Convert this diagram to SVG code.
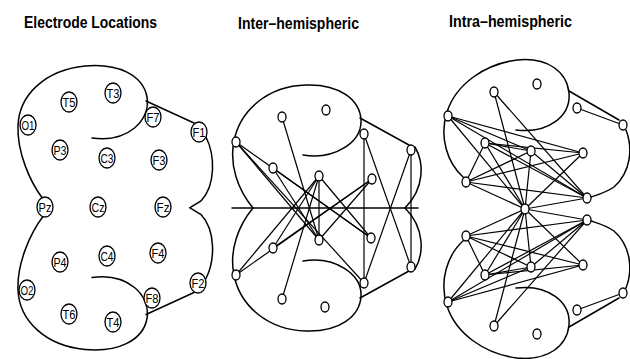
<svg xmlns="http://www.w3.org/2000/svg" width="630" height="359" viewBox="0 0 630 359">
<style>
.outline{fill:none;stroke:#000;stroke-width:1.5;stroke-linecap:round}
.edge{fill:none;stroke:#000;stroke-width:1.2}
.el{fill:#fff;stroke:#000;stroke-width:1.3}
.lbl{font-family:"Liberation Sans",Arial,sans-serif;font-size:13px;text-anchor:middle;fill:#000}
.title{font-family:"Liberation Sans",Arial,sans-serif;font-weight:bold;font-size:17px;fill:#000}
</style>
<rect width="630" height="359" fill="#fff"/>
<g id="titles">
<text class="title" x="24" y="28" textLength="133" lengthAdjust="spacingAndGlyphs">Electrode Locations</text>
<text class="title" x="238" y="29" textLength="121" lengthAdjust="spacingAndGlyphs">Inter–hemispheric</text>
<text class="title" x="449" y="27" textLength="123" lengthAdjust="spacingAndGlyphs">Intra–hemispheric</text>
</g>
<g id="outlines">
<g id="p1-upper">
<path class="outline" d="M43,199 C30,182 17,152 18,126 C19,95 45,70 85,66 C118,63 143,75 147,97 C151,120 128,143 92,138"/>
<path class="outline" d="M146,101 L194,123 M206,137 C215,155 216,185 201,201 L190,207.7"/>
</g>
<g id="p1-lower" transform="matrix(1 0 0 -1 0 415.5)">
<path class="outline" d="M43,199 C30,182 17,152 18,126 C19,95 45,70 85,66 C118,63 143,75 147,97 C151,120 128,143 92,138"/>
<path class="outline" d="M146,101 L194,123 M206,137 C215,155 216,185 201,201 L190,207.7"/>
</g>
<g id="p2-upper">
<path class="outline" d="M253,208 C238,190 229,165 234,141 C240,110 268,86 306,85 C340,84 360,100 361,120 C362,142 335,160 303,155"/>
<path class="outline" d="M360,118 L409,145 M415,147 C424,162 425,188 405,208"/>
</g>
<g id="p2-lower" transform="matrix(1 0 0 -1 0 416)">
<path class="outline" d="M253,208 C238,190 229,165 234,141 C240,110 268,86 306,85 C340,84 360,100 361,120 C362,142 335,160 303,155"/>
<path class="outline" d="M360,118 L409,145 M415,147 C424,162 425,188 405,208"/>
</g>
<path id="p2-midline" class="outline" d="M232,208 H418"/>
<g id="p3-upper">
<path class="outline" d="M464,178 C447,163 439,137 447,112 C456,84 485,64 517,60 C548,57 567,72 569,93 C571,116 548,134 516,130"/>
<path class="outline" d="M569,91 L619,120 M626,130 C633,148 631,172 614,187 C605,193 597,195 591,197"/>
</g>
<g id="p3-lower" transform="matrix(1 0 0 -1 0 418)">
<path class="outline" d="M464,178 C447,163 439,137 447,112 C456,84 485,64 517,60 C548,57 567,72 569,93 C571,116 548,134 516,130"/>
<path class="outline" d="M569,91 L619,120 M626,130 C633,148 631,172 614,187 C605,193 597,195 591,197"/>
</g>
</g>
<g id="connectors">
<g id="p2-edges">
<path class="edge" d="M236,142 L319,240"/>
<path class="edge" d="M236,142 L364,283"/>
<path class="edge" d="M236,142 L371,238"/>
<path class="edge" d="M236,275 L319,176"/>
<path class="edge" d="M236,275 L372,179"/>
<path class="edge" d="M282,117 L319,240"/>
<path class="edge" d="M282,299 L319,176"/>
<path class="edge" d="M273,168 L319,240"/>
<path class="edge" d="M273,168 L371,238"/>
<path class="edge" d="M273,248 L319,176"/>
<path class="edge" d="M273,248 L372,179"/>
<path class="edge" d="M319,176 L319,240"/>
<path class="edge" d="M319,176 L371,238"/>
<path class="edge" d="M372,179 L319,240"/>
<path class="edge" d="M364,134 L364,283"/>
<path class="edge" d="M364,134 L411,267"/>
<path class="edge" d="M411,150 L364,283"/>
<path class="edge" d="M411,150 L411,267"/>
</g>
<g id="p3-edges">
<path class="edge" d="M577,108 L623,125"/>
<path class="edge" d="M494,92 L525,209"/>
<path class="edge" d="M494,92 L587,198"/>
<path class="edge" d="M448,116 L583,153"/>
<path class="edge" d="M448,116 L531,151"/>
<path class="edge" d="M448,116 L525,209"/>
<path class="edge" d="M448,116 L587,198"/>
<path class="edge" d="M485,143 L531,151"/>
<path class="edge" d="M485,143 L583,153"/>
<path class="edge" d="M485,143 L466,182"/>
<path class="edge" d="M485,143 L525,209"/>
<path class="edge" d="M485,143 L587,198"/>
<path class="edge" d="M531,151 L466,182"/>
<path class="edge" d="M531,151 L525,209"/>
<path class="edge" d="M531,151 L587,198"/>
<path class="edge" d="M583,153 L466,182"/>
<path class="edge" d="M583,153 L525,209"/>
<path class="edge" d="M466,182 L587,198"/>
<path class="edge" d="M466,182 L525,209"/>
<path class="edge" d="M587,198 L525,209"/>
<path class="edge" d="M577,310 L623,293"/>
<path class="edge" d="M494,326 L525,209"/>
<path class="edge" d="M494,326 L587,220"/>
<path class="edge" d="M448,302 L583,265"/>
<path class="edge" d="M448,302 L531,267"/>
<path class="edge" d="M448,302 L525,209"/>
<path class="edge" d="M448,302 L587,220"/>
<path class="edge" d="M485,275 L531,267"/>
<path class="edge" d="M485,275 L583,265"/>
<path class="edge" d="M485,275 L466,236"/>
<path class="edge" d="M485,275 L525,209"/>
<path class="edge" d="M485,275 L587,220"/>
<path class="edge" d="M531,267 L466,236"/>
<path class="edge" d="M531,267 L525,209"/>
<path class="edge" d="M531,267 L587,220"/>
<path class="edge" d="M583,265 L466,236"/>
<path class="edge" d="M583,265 L525,209"/>
<path class="edge" d="M466,236 L587,220"/>
<path class="edge" d="M466,236 L525,209"/>
<path class="edge" d="M587,220 L525,209"/>
</g>
</g>
<g id="p1-nodes">
<g id="n-T5"><ellipse class="el" cx="69" cy="102" rx="8" ry="10"/><text class="lbl" x="69" y="106.6" textLength="13" lengthAdjust="spacingAndGlyphs">T5</text></g>
<g id="n-T3"><ellipse class="el" cx="113" cy="93" rx="8" ry="10"/><text class="lbl" x="113" y="97.6" textLength="13" lengthAdjust="spacingAndGlyphs">T3</text></g>
<g id="n-F7"><ellipse class="el" cx="153" cy="117" rx="8" ry="10"/><text class="lbl" x="153" y="121.6" textLength="13" lengthAdjust="spacingAndGlyphs">F7</text></g>
<g id="n-O1"><ellipse class="el" cx="28" cy="125" rx="8" ry="10"/><text class="lbl" x="28" y="129.6" textLength="13" lengthAdjust="spacingAndGlyphs">O1</text></g>
<g id="n-F1"><ellipse class="el" cx="199" cy="132" rx="8" ry="10"/><text class="lbl" x="199" y="136.6" textLength="13" lengthAdjust="spacingAndGlyphs">F1</text></g>
<g id="n-P3"><ellipse class="el" cx="60" cy="150" rx="8" ry="10"/><text class="lbl" x="60" y="154.6" textLength="13" lengthAdjust="spacingAndGlyphs">P3</text></g>
<g id="n-C3"><ellipse class="el" cx="107" cy="158" rx="8" ry="10"/><text class="lbl" x="107" y="162.6" textLength="13" lengthAdjust="spacingAndGlyphs">C3</text></g>
<g id="n-F3"><ellipse class="el" cx="159" cy="160" rx="8" ry="10"/><text class="lbl" x="159" y="164.6" textLength="13" lengthAdjust="spacingAndGlyphs">F3</text></g>
<g id="n-Pz"><ellipse class="el" cx="45" cy="207" rx="8" ry="10"/><text class="lbl" x="45" y="211.6" textLength="13" lengthAdjust="spacingAndGlyphs">Pz</text></g>
<g id="n-Cz"><ellipse class="el" cx="98" cy="207" rx="8" ry="10"/><text class="lbl" x="98" y="211.6" textLength="13" lengthAdjust="spacingAndGlyphs">Cz</text></g>
<g id="n-Fz"><ellipse class="el" cx="163" cy="207" rx="8" ry="10"/><text class="lbl" x="163" y="211.6" textLength="13" lengthAdjust="spacingAndGlyphs">Fz</text></g>
<g id="n-F4"><ellipse class="el" cx="158" cy="253" rx="8" ry="10"/><text class="lbl" x="158" y="257.6" textLength="13" lengthAdjust="spacingAndGlyphs">F4</text></g>
<g id="n-C4"><ellipse class="el" cx="107" cy="256" rx="8" ry="10"/><text class="lbl" x="107" y="260.6" textLength="13" lengthAdjust="spacingAndGlyphs">C4</text></g>
<g id="n-P4"><ellipse class="el" cx="60" cy="262" rx="8" ry="10"/><text class="lbl" x="60" y="266.6" textLength="13" lengthAdjust="spacingAndGlyphs">P4</text></g>
<g id="n-O2"><ellipse class="el" cx="27" cy="290" rx="8" ry="10"/><text class="lbl" x="27" y="294.6" textLength="13" lengthAdjust="spacingAndGlyphs">O2</text></g>
<g id="n-F2"><ellipse class="el" cx="198" cy="283" rx="8" ry="10"/><text class="lbl" x="198" y="287.6" textLength="13" lengthAdjust="spacingAndGlyphs">F2</text></g>
<g id="n-F8"><ellipse class="el" cx="152" cy="298" rx="8" ry="10"/><text class="lbl" x="152" y="302.6" textLength="13" lengthAdjust="spacingAndGlyphs">F8</text></g>
<g id="n-T6"><ellipse class="el" cx="69" cy="314" rx="8" ry="10"/><text class="lbl" x="69" y="318.6" textLength="13" lengthAdjust="spacingAndGlyphs">T6</text></g>
<g id="n-T4"><ellipse class="el" cx="113" cy="322" rx="8" ry="10"/><text class="lbl" x="113" y="326.6" textLength="13" lengthAdjust="spacingAndGlyphs">T4</text></g>
</g>
<g id="p2-nodes">
<g id="p2-O1"><ellipse class="el" cx="236" cy="142" rx="4" ry="5"/></g>
<g id="p2-T5"><ellipse class="el" cx="282" cy="117" rx="4" ry="5"/></g>
<g id="p2-T3"><ellipse class="el" cx="326" cy="110" rx="4" ry="5"/></g>
<g id="p2-F7"><ellipse class="el" cx="364" cy="134" rx="4" ry="5"/></g>
<g id="p2-F1"><ellipse class="el" cx="411" cy="150" rx="4" ry="5"/></g>
<g id="p2-P3"><ellipse class="el" cx="273" cy="168" rx="4" ry="5"/></g>
<g id="p2-C3"><ellipse class="el" cx="319" cy="176" rx="4" ry="5"/></g>
<g id="p2-F3"><ellipse class="el" cx="372" cy="179" rx="4" ry="5"/></g>
<g id="p2-O2"><ellipse class="el" cx="236" cy="275" rx="4" ry="5"/></g>
<g id="p2-T6"><ellipse class="el" cx="282" cy="299" rx="4" ry="5"/></g>
<g id="p2-T4"><ellipse class="el" cx="325" cy="307" rx="4" ry="5"/></g>
<g id="p2-F8"><ellipse class="el" cx="364" cy="283" rx="4" ry="5"/></g>
<g id="p2-F2"><ellipse class="el" cx="411" cy="267" rx="4" ry="5"/></g>
<g id="p2-P4"><ellipse class="el" cx="273" cy="248" rx="4" ry="5"/></g>
<g id="p2-C4"><ellipse class="el" cx="319" cy="240" rx="4" ry="5"/></g>
<g id="p2-F4"><ellipse class="el" cx="371" cy="238" rx="4" ry="5"/></g>
</g>
<g id="p3-nodes">
<g id="p3-A"><ellipse class="el" cx="537" cy="84" rx="4" ry="5"/></g>
<g id="p3-B"><ellipse class="el" cx="494" cy="92" rx="4" ry="5"/></g>
<g id="p3-C"><ellipse class="el" cx="577" cy="108" rx="4" ry="5"/></g>
<g id="p3-D"><ellipse class="el" cx="623" cy="125" rx="4" ry="5"/></g>
<g id="p3-E"><ellipse class="el" cx="448" cy="116" rx="4" ry="5"/></g>
<g id="p3-F"><ellipse class="el" cx="485" cy="143" rx="4" ry="5"/></g>
<g id="p3-G"><ellipse class="el" cx="531" cy="151" rx="4" ry="5"/></g>
<g id="p3-H"><ellipse class="el" cx="583" cy="153" rx="4" ry="5"/></g>
<g id="p3-I"><ellipse class="el" cx="466" cy="182" rx="4" ry="5"/></g>
<g id="p3-J"><ellipse class="el" cx="587" cy="198" rx="4" ry="5"/></g>
<g id="p3-K"><ellipse class="el" cx="525" cy="209" rx="4" ry="5"/></g>
<g id="p3-J2"><ellipse class="el" cx="587" cy="220" rx="4" ry="5"/></g>
<g id="p3-I2"><ellipse class="el" cx="466" cy="236" rx="4" ry="5"/></g>
<g id="p3-H2"><ellipse class="el" cx="583" cy="265" rx="4" ry="5"/></g>
<g id="p3-G2"><ellipse class="el" cx="531" cy="267" rx="4" ry="5"/></g>
<g id="p3-F2"><ellipse class="el" cx="485" cy="275" rx="4" ry="5"/></g>
<g id="p3-E2"><ellipse class="el" cx="448" cy="302" rx="4" ry="5"/></g>
<g id="p3-D2"><ellipse class="el" cx="623" cy="293" rx="4" ry="5"/></g>
<g id="p3-C2"><ellipse class="el" cx="577" cy="310" rx="4" ry="5"/></g>
<g id="p3-B2"><ellipse class="el" cx="494" cy="326" rx="4" ry="5"/></g>
<g id="p3-A2"><ellipse class="el" cx="537" cy="334" rx="4" ry="5"/></g>
</g>
</svg>
